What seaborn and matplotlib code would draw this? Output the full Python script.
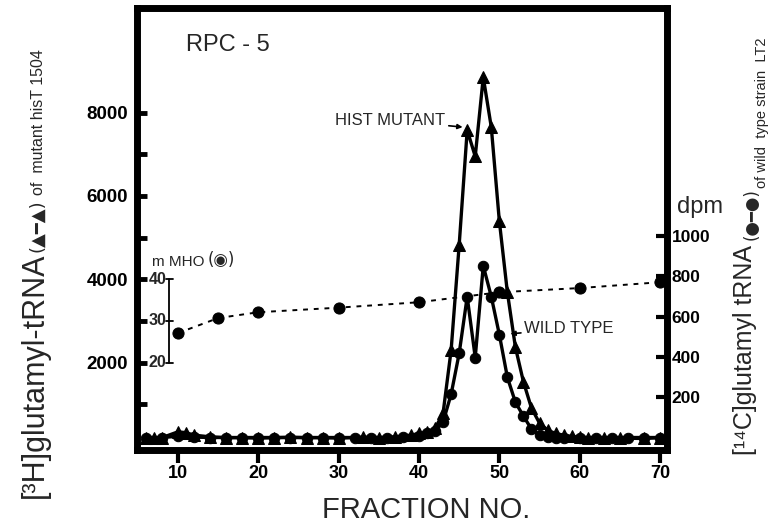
import matplotlib
matplotlib.use("Agg")
import matplotlib.pyplot as plt
import seaborn as sns
import pandas as pd
from matplotlib.ticker import FixedLocator, FuncFormatter

# ---------------- data ----------------
mutant_fraction = [6, 7, 8, 10, 11, 12, 14, 16, 18, 20, 22, 24, 26, 28, 30, 33, 35, 37,
                   39, 40, 41, 42, 43, 44, 45, 46, 47, 48, 49, 50, 51, 52, 53, 54, 55,
                   56, 57, 58, 59, 60, 61, 63, 65, 68, 70]
mutant_h3 = [200, 180, 200, 340, 320, 260, 220, 200, 200, 190, 200, 210, 200, 200, 190,
             210, 200, 220, 260, 300, 330, 420, 790, 2300, 4820, 7580, 6950, 8850, 7650,
             5400, 3690, 2370, 1540, 910, 550, 380, 300, 260, 230, 210, 200, 180, 190,
             180, 200]

wild_fraction = [6, 8, 10, 12, 14, 16, 18, 20, 22, 24, 26, 28, 30, 32, 34, 36, 38, 40,
                 41, 42, 43, 44, 45, 46, 47, 48, 49, 50, 51, 52, 53, 54, 55, 56, 57, 58,
                 60, 62, 64, 66, 68, 70]
wild_c14 = [0, 0, 6, 2, 0, 0, 0, 0, 0, 0, 0, 0, 0, 0, 0, 0, 2, 8,
            20, 32, 77, 215, 417, 699, 397, 852, 699, 511, 299, 175, 106, 42, 10, 2, 0, 0,
            0, 0, 0, 0, 0, 0]

cond_fraction = [10, 15, 20, 30, 40, 50, 60, 70]
cond_mmho = [27.1, 30.7, 32.1, 33.2, 34.5, 36.9, 37.9, 39.3]

x_ticks = [10, 20, 30, 40, 50, 60, 70]
left_ticks = [1000, 2000, 3000, 4000, 5000, 6000, 7000, 8000]
left_labelled = [2000, 4000, 6000, 8000]
right_ticks = [200, 400, 600, 800, 1000]
mmho_ticks = [20, 30, 40]

# ---------------- style ----------------
sns.set_style("white")
plt.rcParams['font.family'] = ['Liberation Sans', 'DejaVu Sans']
plt.rcParams['axes.linewidth'] = 5

W, H = 774, 530
fig = plt.figure(figsize=(W / 100, H / 100), dpi=100)
ax = fig.add_axes([137 / W, 80 / H, 530 / W, 442.5 / H])
ax.set_facecolor('white')


def fp(x, y):
    """pixel (from top-left) -> figure fraction"""
    return x / W, 1 - y / H


# mutant (3H, triangles) on left axis
mut = pd.DataFrame({'fraction': mutant_fraction, 'h3': mutant_h3})
sns.lineplot(data=mut, x='fraction', y='h3', ax=ax, color='black', lw=2.4,
             marker='^', markersize=9, markeredgecolor='black', estimator=None)

# conductivity (mMHO) drawn against the left scale (40 mMHO <-> 4000)
cond = pd.DataFrame({'fraction': cond_fraction, 'left': [v * 100 for v in cond_mmho]})
sns.lineplot(data=cond, x='fraction', y='left', ax=ax, color='black', lw=1.4,
             linestyle=(0, (2.5, 3)), marker='o', markersize=8,
             markeredgecolor='black', estimator=None)

ax.set_xlim(4.9, 70.87)
ax.set_ylim(-96, 10523)
ax.set_xlabel('')
ax.set_ylabel('')

for s in ax.spines.values():
    s.set_visible(True)
    s.set_linewidth(5)
    s.set_color('black')

ax.xaxis.set_major_locator(FixedLocator(x_ticks))
ax.yaxis.set_major_locator(FixedLocator(left_ticks))
ax.yaxis.set_major_formatter(FuncFormatter(
    lambda v, p: f"{int(v)}" if int(v) in left_labelled else ""))
ax.tick_params(axis='y', which='major', direction='in', length=7.5, width=3.5,
               labelsize=13.5, pad=6.5, left=True, right=False, colors='black')
ax.tick_params(axis='x', which='major', direction='out', length=9, width=3,
               labelsize=13, pad=2, colors='black', bottom=True, top=False)
for lab in ax.get_xticklabels() + ax.get_yticklabels():
    lab.set_fontweight('bold')

# wild type (14C, circles) on right axis
ax2 = ax.twinx()
wt = pd.DataFrame({'fraction': wild_fraction, 'c14': wild_c14})
sns.lineplot(data=wt, x='fraction', y='c14', ax=ax2, color='black', lw=2.4,
             marker='o', markersize=7.5, markeredgecolor='black', estimator=None)
ax2.set_ylim(-62, 2134)
ax2.set_xlim(4.9, 70.87)
ax2.set_ylabel('')
for s in ax2.spines.values():
    s.set_visible(False)
ax2.yaxis.set_major_locator(FixedLocator(right_ticks))
ax2.tick_params(axis='y', direction='in', length=8, width=3, labelsize=12.5, pad=3.5,
                right=True, left=False, labelright=True, labelleft=False, colors='black')
for lab in ax2.get_yticklabels():
    lab.set_fontweight('bold')

# ---------------- mMHO mini scale ----------------
mini_x = 8.9
ax.plot([mini_x, mini_x], [min(mmho_ticks) * 100, max(mmho_ticks) * 100],
        color='black', lw=1.3)
for t in mmho_ticks:
    ax.plot([mini_x - 0.35, mini_x + 0.5], [t * 100, t * 100], color='black', lw=1.3)
    ax.text(mini_x - 0.3, t * 100, str(t), ha='right', va='center',
            fontsize=11.5, fontweight='bold')
ax.text(6.8, 4420, "m MHO", ha='left', va='center', fontsize=11)
ax.text(15.4, 4460, "(◉)", ha='center', va='center', fontsize=12,
        family=['DejaVu Sans'])

# ---------------- annotations ----------------
fig.text(*fp(186, 45), "RPC - 5", ha='left', va='center', fontsize=17)

ax.annotate("HIST MUTANT", xy=(45.6, 7650), xytext=(43.3, 7820),
            ha='right', va='center', fontsize=12,
            arrowprops=dict(arrowstyle='-|>', color='black', lw=1.2,
                            mutation_scale=7, shrinkA=0, shrinkB=1))
ax.annotate("WILD TYPE", xy=(51.2, 2690), xytext=(53.1, 2810),
            ha='left', va='center', fontsize=12,
            arrowprops=dict(arrowstyle='-|>', color='black', lw=1.2,
                            mutation_scale=7, shrinkA=0, shrinkB=1))

# ---------------- axis titles ----------------
fig.text(*fp(426, 510), "FRACTION NO.", ha='center', va='center', fontsize=21)
fig.text(*fp(677, 213), "dpm", ha='left', va='baseline', fontsize=17)

rot = dict(rotation=90, rotation_mode='anchor', ha='left', va='baseline')
# left title (reads bottom to top)
fig.text(*fp(43, 498), "[³H]glutamyl-tRNA", fontsize=22, **rot)
fig.text(*fp(42, 252), "(▲━▲)", fontsize=13, family=['DejaVu Sans'], **rot)
fig.text(*fp(43, 195), "of  mutant hisT 1504", fontsize=11.5, **rot)
# right title
fig.text(*fp(752, 455), "[¹⁴C]glutamyl tRNA", fontsize=18, **rot)
fig.text(*fp(757, 240), "(●━●)", fontsize=12, family=['DejaVu Sans'], **rot)
fig.text(*fp(766, 188), "of wild  type strain  LT2", fontsize=10.5, **rot)

fig.savefig("out.png", dpi=100, facecolor='white')
